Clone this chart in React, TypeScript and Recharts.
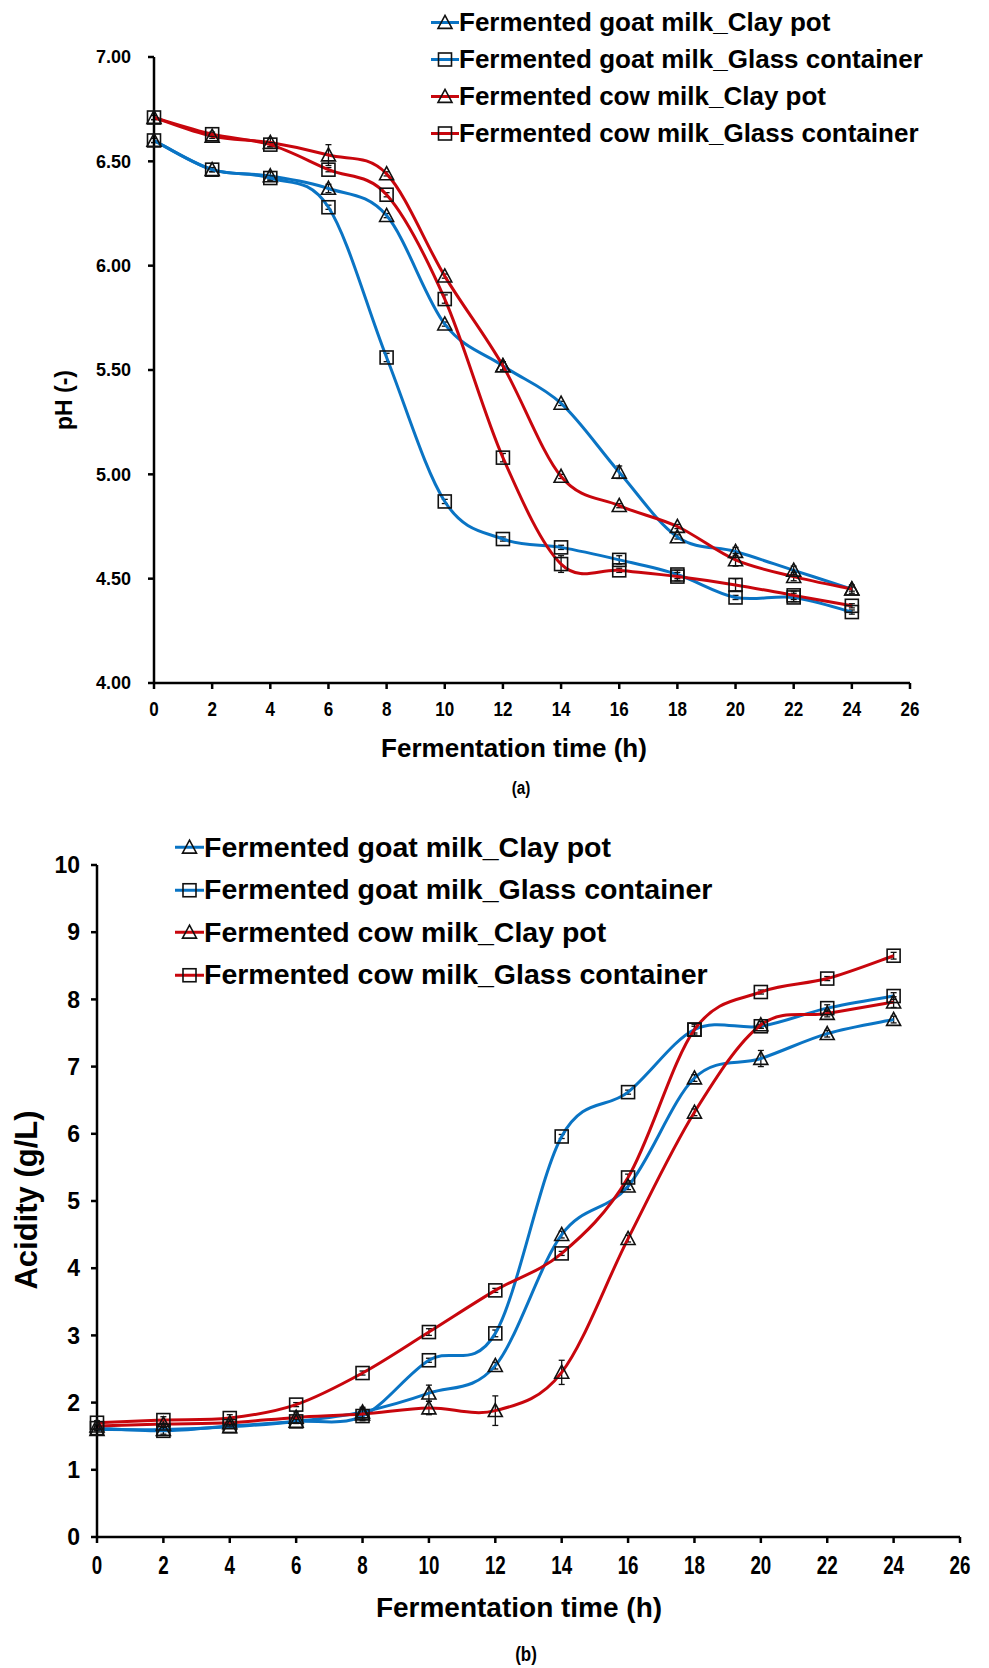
import React from "react";
import { LineChart, Line, XAxis, YAxis, Legend, ErrorBar } from "recharts";

// fermentation time (h)
const hours = [0, 2, 4, 6, 8, 10, 12, 14, 16, 18, 20, 22, 24];
const xTicks = [0, 2, 4, 6, 8, 10, 12, 14, 16, 18, 20, 22, 24, 26];

// (a) pH
const phGoatClay = [6.6, 6.46, 6.43, 6.37, 6.24, 5.72, 5.52, 5.34, 5.01, 4.7, 4.63, 4.54, 4.45];
const phGoatGlass = [6.6, 6.46, 6.42, 6.28, 5.56, 4.87, 4.69, 4.65, 4.59, 4.52, 4.41, 4.41, 4.34];
const phCowClay = [6.71, 6.62, 6.59, 6.53, 6.44, 5.95, 5.52, 4.99, 4.85, 4.75, 4.59, 4.51, 4.45];
const phCowGlass = [6.71, 6.63, 6.58, 6.46, 6.34, 5.84, 5.08, 4.57, 4.54, 4.51, 4.47, 4.42, 4.37];
const phGoatClayErr = [0.01, 0.01, 0.02, 0.02, 0.01, 0.01, 0.02, 0.01, 0.03, 0.01, 0.02, 0.02, 0.01];
const phGoatGlassErr = [0.01, 0.01, 0.01, 0.01, 0.02, 0.01, 0.01, 0.01, 0.02, 0.02, 0.01, 0.02, 0.01];
const phCowClayErr = [0.01, 0.01, 0.02, 0.05, 0.01, 0.01, 0.02, 0.01, 0.01, 0.01, 0.03, 0.02, 0.02];
const phCowGlassErr = [0.01, 0.01, 0.01, 0.01, 0.01, 0.02, 0.02, 0.04, 0.01, 0.02, 0.03, 0.02, 0.01];
const phTicks = [4, 4.5, 5, 5.5, 6, 6.5, 7];

// (b) acidity (g/L)
const acGoatClay = [1.6, 1.6, 1.64, 1.72, 1.86, 2.14, 2.55, 4.5, 5.22, 6.83, 7.12, 7.49, 7.7];
const acGoatGlass = [1.62, 1.58, 1.65, 1.72, 1.8, 2.63, 3.03, 5.96, 6.62, 7.55, 7.6, 7.87, 8.05];
const acCowClay = [1.65, 1.68, 1.7, 1.78, 1.83, 1.92, 1.88, 2.45, 4.44, 6.32, 7.62, 7.79, 7.96];
const acCowGlass = [1.7, 1.74, 1.77, 1.97, 2.44, 3.05, 3.67, 4.22, 5.35, 7.55, 8.11, 8.31, 8.65];
const acGoatClayErr = [0.02, 0.02, 0.02, 0.03, 0.05, 0.12, 0.05, 0.05, 0.05, 0.05, 0.12, 0.05, 0.05];
const acGoatGlassErr = [0.03, 0.05, 0.03, 0.03, 0.03, 0.03, 0.05, 0.03, 0.03, 0.05, 0.03, 0.05, 0.05];
const acCowClayErr = [0.03, 0.05, 0.05, 0.08, 0.1, 0.1, 0.22, 0.18, 0.05, 0.05, 0.05, 0.05, 0.08];
const acCowGlassErr = [0.03, 0.05, 0.05, 0.03, 0.03, 0.05, 0.03, 0.03, 0.05, 0.08, 0.03, 0.03, 0.05];
const acTicks = [0, 1, 2, 3, 4, 5, 6, 7, 8, 9, 10];

const BLUE = "#0a74c4";
const RED = "#c8060d";
const ARIAL = "'Liberation Sans', Arial, sans-serif";

const series = [
  { key: "goatClay", name: "Fermented goat milk_Clay pot", color: BLUE, shape: "tri" },
  { key: "goatGlass", name: "Fermented goat milk_Glass container", color: BLUE, shape: "sq" },
  { key: "cowClay", name: "Fermented cow milk_Clay pot", color: RED, shape: "tri" },
  { key: "cowGlass", name: "Fermented cow milk_Glass container", color: RED, shape: "sq" },
];

const phData = hours.map((t, i) => ({
  t,
  goatClay: phGoatClay[i], goatClayErr: phGoatClayErr[i],
  goatGlass: phGoatGlass[i], goatGlassErr: phGoatGlassErr[i],
  cowClay: phCowClay[i], cowClayErr: phCowClayErr[i],
  cowGlass: phCowGlass[i], cowGlassErr: phCowGlassErr[i],
}));

const acData = hours.map((t, i) => ({
  t,
  goatClay: acGoatClay[i], goatClayErr: acGoatClayErr[i],
  goatGlass: acGoatGlass[i], goatGlassErr: acGoatGlassErr[i],
  cowClay: acCowClay[i], cowClayErr: acCowClayErr[i],
  cowGlass: acCowGlass[i], cowGlassErr: acCowGlassErr[i],
}));

// excel style smoothed line (catmull-rom as bezier)
function smoothCurve(context: any) {
  let pts: number[][] = [];
  return {
    areaStart() {},
    areaEnd() {},
    lineStart() {
      pts = [];
    },
    point(x: number, y: number) {
      pts.push([+x, +y]);
    },
    lineEnd() {
      if (!pts.length) return;
      context.moveTo(pts[0][0], pts[0][1]);
      const n = pts.length;
      for (let i = 0; i < n - 1; i++) {
        const p0 = pts[Math.max(i - 1, 0)];
        const p1 = pts[i];
        const p2 = pts[i + 1];
        const p3 = pts[Math.min(i + 2, n - 1)];
        context.bezierCurveTo(
          p1[0] + (p2[0] - p0[0]) / 6,
          p1[1] + (p2[1] - p0[1]) / 6,
          p2[0] - (p3[0] - p1[0]) / 6,
          p2[1] - (p3[1] - p1[1]) / 6,
          p2[0],
          p2[1]
        );
      }
    },
  };
}

function Marker({ cx, cy, shape, size }: { cx: number; cy: number; shape: string; size: number }) {
  if (shape === "sq") {
    return (
      <rect x={cx - size / 2} y={cy - size / 2} width={size} height={size}
        fill="none" stroke="#111" strokeWidth={1.6} />
    );
  }
  const w = size + 1;
  return (
    <polygon
      points={`${cx},${cy - size * 0.55} ${cx + w / 2},${cy + size * 0.45} ${cx - w / 2},${cy + size * 0.45}`}
      fill="none" stroke="#111" strokeWidth={1.6} strokeLinejoin="miter" />
  );
}

// condensed tick label, like the narrow font in the original
function NarrowTick(props: any) {
  const { x, y, payload, fontSize, sx } = props;
  return (
    <g transform={`translate(${x},${y})`}>
      <text transform={`scale(${sx},1)`} textAnchor="middle" dy="0.71em"
        fontSize={fontSize} fontWeight={700} fontFamily={ARIAL} fill="#000">
        {payload.value}
      </text>
    </g>
  );
}

function LegendBox({ fontSize, rowH, lineW }: { fontSize: number; rowH: number; lineW: number }) {
  return (
    <div style={{ fontFamily: ARIAL, fontWeight: 700, fontSize, color: "#000" }}>
      {series.map((s) => (
        <div key={s.key} style={{ height: rowH, display: "flex", alignItems: "center", whiteSpace: "nowrap" }}>
          <svg width={lineW} height={rowH} style={{ display: "block" }}>
            <line x1={0} x2={lineW} y1={rowH / 2} y2={rowH / 2} stroke={s.color} strokeWidth={3} />
            <Marker cx={lineW / 2} cy={rowH / 2} shape={s.shape} size={13} />
          </svg>
          <span>{s.name}</span>
        </div>
      ))}
    </div>
  );
}

const axisLine = { stroke: "#000", strokeWidth: 2.5 };

function Panel({ data, width, height, margin, yWidth, xHeight, yDomain, yTicks, yFmt, yTick, xTick, yMargin, xMargin, legend }: any) {
  return (
    <LineChart width={width} height={height} data={data} margin={margin}>
      <XAxis
        dataKey="t"
        type="number"
        domain={[0, 26]}
        ticks={xTicks}
        height={xHeight}
        axisLine={axisLine}
        tickLine={axisLine}
        tickSize={6}
        tickMargin={xMargin}
        tick={xTick}
        interval={0}
      />
      <YAxis
        type="number"
        domain={yDomain}
        ticks={yTicks}
        width={yWidth}
        axisLine={axisLine}
        tickLine={axisLine}
        tickSize={6}
        tickMargin={yMargin}
        tick={yTick}
        tickFormatter={yFmt}
        interval={0}
      />
      {series.map((s) => (
        <Line
          key={s.key}
          dataKey={s.key}
          name={s.name}
          stroke={s.color}
          strokeWidth={3}
          type={smoothCurve as any}
          isAnimationActive={false}
          dot={(p: any) => (
            <Marker key={`${s.key}-${p.index}`} cx={p.cx} cy={p.cy} shape={s.shape} size={13} />
          )}
          activeDot={false}
        >
          <ErrorBar dataKey={`${s.key}Err`} direction="y" width={3} stroke="#111" strokeWidth={1.3} />
        </Line>
      ))}
      {legend}
    </LineChart>
  );
}

const textBase: React.CSSProperties = {
  position: "absolute",
  fontFamily: ARIAL,
  fontWeight: 700,
  color: "#000",
  whiteSpace: "nowrap",
  transform: "translate(-50%, -50%)",
};

export default function App() {
  return (
    <div style={{ position: "absolute", left: 0, top: 0, width: 989, height: 1668, background: "#fff", overflow: "hidden" }}>
      <div style={{ position: "absolute", left: 0, top: 0 }}>
        <Panel
          data={phData}
          width={989}
          height={800}
          margin={{ top: 57, right: 79, bottom: 57, left: 0 }}
          yWidth={154}
          xHeight={60}
          yDomain={[4, 7]}
          yTicks={phTicks}
          yFmt={(v: number) => v.toFixed(2)}
          yTick={{ fill: "#000", fontSize: 18, fontWeight: 700, fontFamily: ARIAL }}
          xTick={(p: any) => <NarrowTick {...p} fontSize={20} sx={0.85} />}
          yMargin={17}
          xMargin={13}
          legend={
            <Legend
              layout="vertical"
              align="center"
              verticalAlign="middle"
              wrapperStyle={{ left: 431, top: 4, width: 540, height: "auto" }}
              content={() => <LegendBox fontSize={26} rowH={37} lineW={28} />}
            />
          }
        />
      </div>
      <div style={{ ...textBase, left: 64, top: 400, fontSize: 23, transform: "translate(-50%, -50%) rotate(-90deg)" }}>pH (-)</div>
      <div style={{ ...textBase, left: 514, top: 748, fontSize: 26 }}>Fermentation time (h)</div>
      <div style={{ ...textBase, left: 521, top: 788, fontSize: 18, transform: "translate(-50%, -50%) scaleX(0.85)" }}>(a)</div>

      <div style={{ position: "absolute", left: 0, top: 780 }}>
        <Panel
          data={acData}
          width={989}
          height={888}
          margin={{ top: 85, right: 29, bottom: 61, left: 0 }}
          yWidth={97}
          xHeight={70}
          yDomain={[0, 10]}
          yTicks={acTicks}
          yFmt={(v: number) => String(v)}
          yTick={{ fill: "#000", fontSize: 23, fontWeight: 700, fontFamily: ARIAL }}
          xTick={(p: any) => <NarrowTick {...p} fontSize={25} sx={0.75} />}
          yMargin={11}
          xMargin={13}
          legend={
            <Legend
              layout="vertical"
              align="center"
              verticalAlign="middle"
              wrapperStyle={{ left: 175, top: 46, width: 620, height: "auto" }}
              content={() => <LegendBox fontSize={28.5} rowH={42.5} lineW={29} />}
            />
          }
        />
      </div>
      <div style={{ ...textBase, left: 27, top: 1200, fontSize: 31, transform: "translate(-50%, -50%) rotate(-90deg)" }}>Acidity (g/L)</div>
      <div style={{ ...textBase, left: 519, top: 1608, fontSize: 28 }}>Fermentation time (h)</div>
      <div style={{ ...textBase, left: 526, top: 1654, fontSize: 20, transform: "translate(-50%, -50%) scaleX(0.85)" }}>(b)</div>
    </div>
  );
}
